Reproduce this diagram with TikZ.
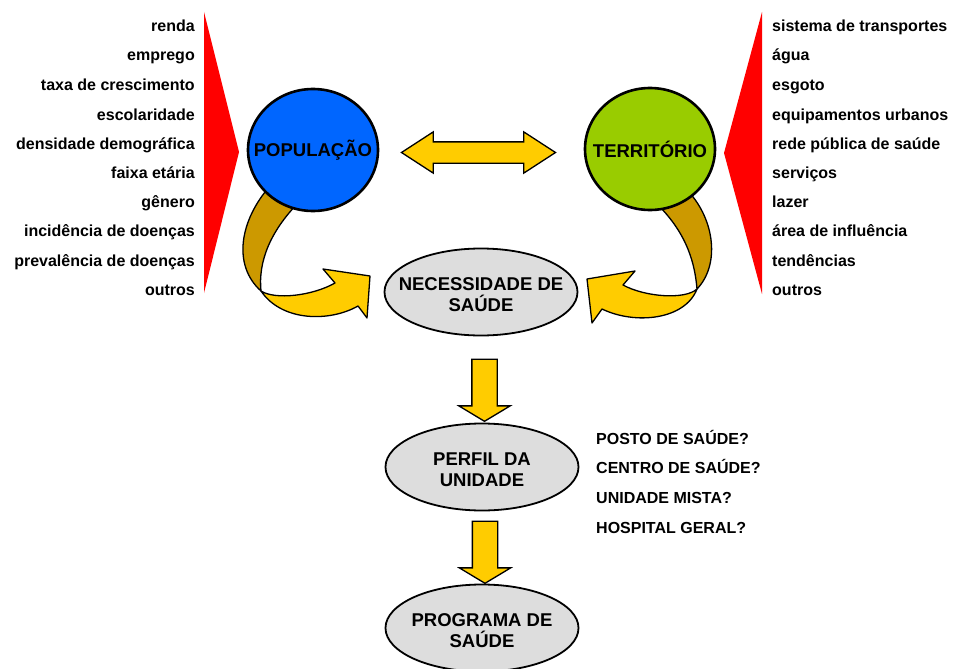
\documentclass[tikz,border=0pt]{standalone}
\usepackage{fontspec}
\setmainfont{Liberation Sans}
\usetikzlibrary{shapes.geometric,shapes.arrows,calc}
\definecolor{popblue}{HTML}{0066FF}
\definecolor{tergreen}{HTML}{99CC00}
\definecolor{gold}{HTML}{FFCC00}
\definecolor{darkgold}{HTML}{CC9900}
\definecolor{lgray}{HTML}{DDDDDD}
\tikzset{
  item/.style={font=\fontsize{16}{19}\selectfont\bfseries, inner sep=0pt},
  bigtext/.style={inner sep=0pt, align=center, font=\fontsize{18.5}{21}\selectfont\bfseries},
  ball/.style={ellipse, draw, line width=2.6pt, minimum width=130pt, minimum height=122pt,
    inner sep=0pt},
  oval/.style={ellipse, draw, line width=1.8pt, fill=lgray, minimum width=193pt, minimum height=87pt,
    inner sep=0pt},
  band/.style={draw, line width=1.3pt, line join=round},
  downarrow/.style={single arrow, draw, fill=gold, line width=1.3pt, rotate=-90,
    inner xsep=0pt, inner ysep=12pt, single arrow head extend=13pt,
    single arrow tip angle=118, minimum height=62pt},
  bothways/.style={double arrow, draw, fill=gold, line width=1.3pt,
    inner xsep=0pt, inner ysep=10pt, double arrow head extend=10pt,
    double arrow tip angle=66, minimum height=154pt}
}
\begin{document}
\begin{tikzpicture}[x=1pt,y=-1pt]
   \useasboundingbox (0,0) rectangle (953,669);

   % red wedges
   \fill[red] (204,12) -- (239,152) -- (204,293) -- cycle;
   \fill[red] (762,12) -- (724,153) -- (762,294) -- cycle;

   % twisted arrows (drawn before the circles)
   \draw[band, fill=darkgold] (270,186) .. controls (240,220) and (232,265) .. (261,291)
      .. controls (258,262) and (270,232) .. (298,203) -- cycle;
   \draw[band, fill=gold] (261,291) .. controls (275,300) and (312,296) .. (335,283)
      -- (323,269) -- (370,276) -- (367,318) -- (358,306)
      .. controls (330,322) and (282,322) .. (261,291) -- cycle;
   \draw[band, fill=darkgold] (688,191) .. controls (715,220) and (720,265) .. (697,289)
      .. controls (695,265) and (688,235) .. (658,205) -- cycle;
   \draw[band, fill=gold] (697,289) .. controls (685,300) and (645,297) .. (623,285)
      -- (635,271) -- (587,279) -- (592,323) -- (602,309)
      .. controls (635,325) and (685,320) .. (697,289) -- cycle;

   \node[ball, fill=popblue, label={[bigtext]center:POPULAÇÃO}]   (pop) at (313,150) {};
   \node[ball, fill=tergreen, label={[bigtext]center:TERRITÓRIO}] (ter) at (650,149) {};

   \node[oval, label={[bigtext, yshift=-3pt]center:{NECESSIDADE DE\\SAÚDE}}] (nec)  at (481,292) {};
   \node[oval, label={[bigtext, yshift=-3pt]center:{PERFIL DA\\UNIDADE}}]     (perf) at (482,467) {};
   \node[oval, label={[bigtext, yshift=-3pt]center:{PROGRAMA DE\\SAÚDE}}]     (prog) at (482,628) {};

   \node[bothways]  (link) at ($(pop.east)!.5!(ter.west)+(-3,3)$) {};
   \node[downarrow] (d1)   at ($(nec.south)!.5!(perf.north)+(3,7)$) {};
   \node[downarrow] (d2)   at ($(perf.south)!.5!(prog.north)+(3,1)$) {};

   % population factors
   \node[item, anchor=base east] (pop1)  at (195,32)  {renda};
   \node[item, anchor=base east] (pop2)  at (195,61)  {emprego};
   \node[item, anchor=base east] (pop3)  at (195,90)  {taxa de crescimento};
   \node[item, anchor=base east] (pop4)  at (195,120) {escolaridade};
   \node[item, anchor=base east] (pop5)  at (195,149) {densidade demográfica};
   \node[item, anchor=base east] (pop6)  at (195,178) {faixa etária};
   \node[item, anchor=base east] (pop7)  at (195,207) {gênero};
   \node[item, anchor=base east] (pop8)  at (195,236) {incidência de doenças};
   \node[item, anchor=base east] (pop9)  at (195,266) {prevalência de doenças};
   \node[item, anchor=base east] (pop10) at (195,295) {outros};

   % territory factors
   \node[item, anchor=base west] (ter1)  at (772,32)  {sistema de transportes};
   \node[item, anchor=base west] (ter2)  at (772,61)  {água};
   \node[item, anchor=base west] (ter3)  at (772,90)  {esgoto};
   \node[item, anchor=base west] (ter4)  at (772,120) {equipamentos urbanos};
   \node[item, anchor=base west] (ter5)  at (772,149) {rede pública de saúde};
   \node[item, anchor=base west] (ter6)  at (772,178) {serviços};
   \node[item, anchor=base west] (ter7)  at (772,207) {lazer};
   \node[item, anchor=base west] (ter8)  at (772,236) {área de influência};
   \node[item, anchor=base west] (ter9)  at (772,266) {tendências};
   \node[item, anchor=base west] (ter10) at (772,295) {outros};

   % kinds of unit
   \node[item, anchor=base west] (opt1) at (596,444) {POSTO DE SAÚDE?};
   \node[item, anchor=base west] (opt2) at (596,473) {CENTRO DE SAÚDE?};
   \node[item, anchor=base west] (opt3) at (596,503) {UNIDADE MISTA?};
   \node[item, anchor=base west] (opt4) at (596,533) {HOSPITAL GERAL?};
\end{tikzpicture}
\end{document}
